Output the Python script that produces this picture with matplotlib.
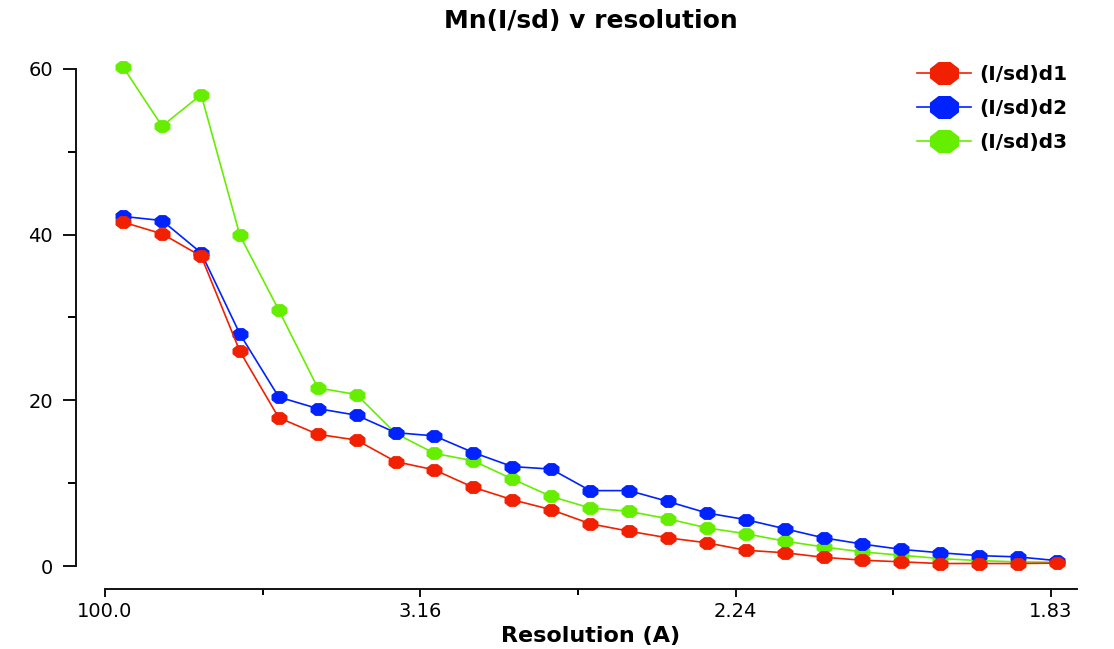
import numpy as np
import matplotlib

matplotlib.use("Agg")
import matplotlib.pyplot as plt
from matplotlib.path import Path
from matplotlib.ticker import FixedLocator, FixedFormatter

# bin centres in 1/d^2 (axis is linear in 1/d^2, labelled as resolution)
inv_d2 = [0.0058, 0.0181, 0.0305, 0.0428, 0.0551, 0.0675, 0.0798, 0.0922,
          0.1045, 0.1168, 0.1292, 0.1415, 0.1539, 0.1662, 0.1785, 0.1909,
          0.2032, 0.2156, 0.2279, 0.2402, 0.2526, 0.2649, 0.2773, 0.2896,
          0.3019]

isd_d1 = [41.5, 40.1, 37.4, 25.9, 17.9, 15.9, 15.2, 12.6, 11.6, 9.5, 8.0, 6.8,
          5.1, 4.2, 3.4, 2.8, 1.9, 1.6, 1.05, 0.7, 0.5, 0.3, 0.3, 0.3, 0.35]
isd_d2 = [42.2, 41.7, 37.8, 28.0, 20.4, 19.0, 18.2, 16.1, 15.7, 13.7, 12.0,
          11.7, 9.1, 9.1, 7.8, 6.4, 5.6, 4.5, 3.4, 2.65, 2.0, 1.6, 1.25, 1.1,
          0.65]
isd_d3 = [60.2, 53.1, 56.9, 39.9, 30.9, 21.5, 20.7, 16.0, 13.6, 12.7, 10.5,
          8.4, 7.0, 6.6, 5.7, 4.6, 3.9, 3.0, 2.3, 1.7, 1.3, 0.9, 0.65, 0.5,
          0.45]

series_labels = ["(I/sd)d1", "(I/sd)d2", "(I/sd)d3"]
series_colors = ["#f02000", "#0022ff", "#66ee00"]

x_ticks = [0.0, 0.1, 0.2, 0.3]
x_tick_labels = ["100.0", "3.16", "2.24", "1.83"]
x_minor = [0.05, 0.15, 0.25]

# flat-topped octagon, a bit wider than tall, like the pixel markers
ang = np.deg2rad(22.5 + 45 * np.arange(8))
verts = np.column_stack([np.cos(ang), 0.78 * np.sin(ang)])
verts = np.vstack([verts, verts[:1]])
octagon = Path(verts, [Path.MOVETO] + [Path.LINETO] * 7 + [Path.CLOSEPOLY])

W, H = 1114, 649
fig = plt.figure(figsize=(W / 100, H / 100), dpi=100)
ax = fig.add_axes([105 / W, (H - 566) / H, 972 / W, 513.6 / H])

# green underneath, red on top; legend keeps d1, d2, d3 order
for vals, label, color, z in zip([isd_d1, isd_d2, isd_d3], series_labels,
                                 series_colors, [4, 3, 2]):
    ax.plot(inv_d2, vals, color=color, lw=1.2, marker=octagon, ms=10.5,
            mec=color, mfc=color, label=label, zorder=z, clip_on=False)

ax.set_xlim(0, 0.3083)
ax.set_ylim(0, 62)

# spine offsets are in points (0.72 pt per pixel at 100 dpi)
for side in ("top", "right"):
    ax.spines[side].set_visible(False)
ax.spines["left"].set_position(("outward", 20.9))
ax.spines["bottom"].set_position(("outward", 16.6))
ax.spines["left"].set_bounds(0, 60)
for side in ("left", "bottom"):
    ax.spines[side].set_linewidth(1.4)
    ax.spines[side].set_color("#111111")

ax.xaxis.set_major_locator(FixedLocator(x_ticks))
ax.xaxis.set_major_formatter(FixedFormatter(x_tick_labels))
ax.xaxis.set_minor_locator(FixedLocator(x_minor))
ax.yaxis.set_major_locator(FixedLocator([0, 20, 40, 60]))
ax.yaxis.set_minor_locator(FixedLocator([10, 30, 50]))

ax.tick_params(axis="x", which="major", length=5.5, width=1.4, pad=3.5,
               labelsize=14, color="#111111")
ax.tick_params(axis="x", which="minor", length=4, width=1.4)
ax.tick_params(axis="y", which="major", length=9.5, width=1.4, pad=7,
               labelsize=14, color="#111111")
ax.tick_params(axis="y", which="minor", length=5.8, width=1.4)

ax.set_xlabel("Resolution (A)", fontsize=16, fontweight="bold", va="center")
ax.xaxis.set_label_coords(0.5, -0.1363)
ax.set_title("Mn(I/sd) v resolution", fontsize=18, fontweight="bold",
             y=1.062, va="center", pad=0)

ax.legend(loc="upper left", bbox_to_anchor=(917 / W, 1 - 65 / H),
          bbox_transform=fig.transFigure, frameon=False, borderpad=0,
          borderaxespad=0, handlelength=2.7, handletextpad=0.4,
          labelspacing=0.74, markerscale=1.9,
          prop={"size": 14.5, "weight": "bold"})

fig.savefig("out.png", dpi=100, facecolor="white")
plt.close(fig)
